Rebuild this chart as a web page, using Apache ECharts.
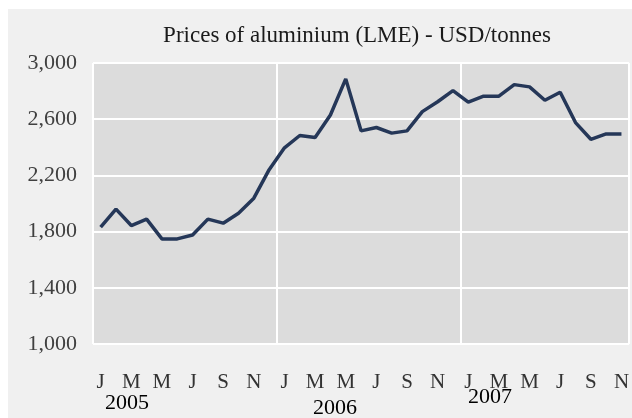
<!DOCTYPE html>
<html>
<head>
<meta charset="utf-8">
<script src="https://cdn.jsdelivr.net/npm/echarts@6/dist/echarts.min.js"></script>
<style>
  html, body { margin: 0; padding: 0; background: #fff; }
  #chart { width: 632px; height: 418px; }
</style>
</head>
<body>
<div id="chart"></div>
<script>
// months Jan 2005 .. Nov 2007
var monthLetters = ['J','F','M','A','M','J','J','A','S','O','N','D'];
var years = ['2005', '2006', '2007'];
var months = [];
for (var y = 0; y < 3; y++) {
    for (var m = 0; m < 12; m++) {
        if (y == 2 && m == 11) break;
        months.push(monthLetters[m]);
    }
}

// LME aluminium, USD/tonne
var prices = [
    1831, 1960, 1843, 1889, 1748, 1748, 1776, 1889, 1860, 1931, 2038, 2241,
    2396, 2484, 2469, 2630, 2887, 2517, 2541, 2501, 2517, 2654, 2724, 2804,
    2721, 2764, 2764, 2846, 2830, 2735, 2792, 2576, 2457, 2495, 2495
];

var yTicks = [1000, 1400, 1800, 2200, 2600, 3000];

var serif = 'Liberation Serif';

var myChart = echarts.init(document.getElementById('chart'));

var option = {
    backgroundColor: '#ffffff',
    animation: false,
    title: {
        text: 'Prices of aluminium (LME) - USD/tonnes',
        left: 352,
        top: 19,
        textAlign: 'center',
        textStyle: {
            fontFamily: serif,
            fontSize: 23,
            fontWeight: 'normal',
            color: '#1a1a1a'
        }
    },
    graphic: [
        {
            type: 'rect',
            z: -10,
            shape: {x: 8, y: 9, width: 624, height: 409},
            style: {fill: '#f0f0f0'}
        },
        {type: 'text', left: 105, top: 392, style: {text: years[0], font: '22px "Liberation Serif"', fill: '#000'}},
        {type: 'text', left: 313, top: 397, style: {text: years[1], font: '22px "Liberation Serif"', fill: '#000'}},
        {type: 'text', left: 468, top: 386, style: {text: years[2], font: '22px "Liberation Serif"', fill: '#000'}}
    ],
    grid: {
        left: 93,
        top: 63,
        right: 0,
        bottom: 74,
        show: true,
        backgroundColor: '#dcdcdc',
        borderWidth: 0
    },
    xAxis: {
        type: 'category',
        data: months,
        boundaryGap: true,
        axisLine: {show: false},
        axisTick: {show: false},
        axisLabel: {
            interval: 1,
            margin: 28,
            fontFamily: serif,
            fontSize: 21,
            color: '#333333'
        },
        splitLine: {
            show: true,
            interval: function (index) { return index % 12 === 0; },
            lineStyle: {color: '#ffffff', width: 2}
        }
    },
    yAxis: {
        type: 'value',
        min: yTicks[0],
        max: yTicks[yTicks.length - 1],
        interval: 400,
        axisLine: {show: false},
        axisTick: {show: false},
        axisLabel: {
            margin: 16,
            fontFamily: serif,
            fontSize: 22,
            color: '#404040',
            formatter: function (v) { return v.toLocaleString('en-US'); }
        },
        splitLine: {lineStyle: {color: '#ffffff', width: 2}}
    },
    series: [
        {
            name: 'Aluminium',
            type: 'line',
            data: prices,
            symbol: 'none',
            lineStyle: {color: '#253758', width: 3.5}
        }
    ]
};

myChart.setOption(option);
</script>
</body>
</html>
